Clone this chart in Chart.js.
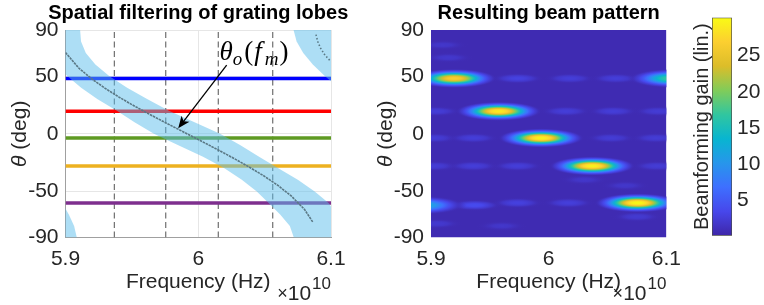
<!DOCTYPE html>
<html lang="en">
<head>
  <meta charset="UTF-8" />
  <title>Grating lobes and beam pattern</title>
  <script src="https://cdn.jsdelivr.net/npm/chart.js"></script>
  <style>
    body {
      margin: 0;
      background: #fff;
      width: 764px;
      height: 305px;
      position: relative;
      overflow: hidden;
    }
    canvas { position: absolute; top: 0; }
    #left { left: 0; }
    #right { left: 360px; }
    #cbar { left: 690px; }
  </style>
</head>
<body>
  <canvas id="left" width="360" height="305"></canvas>
  <canvas id="right" width="330" height="305"></canvas>
  <canvas id="cbar" width="74" height="305"></canvas>

  <script>
    // ---- data: frequency in units of 1e10 Hz, angle in degrees ----
    const xTicks = [5.9, 6.0, 6.1];
    const xTickLabels = ['5.9', '6', '6.1'];
    const yTicks = [-90, -50, 0, 50, 90];
    const yTickLabels = ['-90', '-50', '0', '50', '90'];
    const cbarTicks = [5, 10, 15, 20, 25];
    const cbarRange = [0.1, 30.26];

    // steering angle of each sub-band
    const beamAngles = [48, 19.5, -3.7, -28, -60];
    // sub-band boundaries (dashed)
    const subbandEdges = [5.9368, 5.9755, 6.0151, 6.0561];

    // theta_o(f_m)
    const curveFreq = [5.900, 5.910, 5.920, 5.930, 5.940, 5.950, 5.960, 5.970, 5.980, 5.990,
                       6.000, 6.010, 6.020, 6.030, 6.040, 6.050, 6.060, 6.070, 6.080, 6.0865];
    const curveDeg = [70.4, 57.0, 47.4, 39.3, 32.0, 25.3, 18.9, 12.8, 6.8, 0.9,
                      -5.0, -11.0, -17.1, -23.4, -30.0, -37.0, -44.8, -53.9, -65.6, -77];
    const curve2Freq = [6.0887, 6.090, 6.092, 6.095, 6.098, 6.100];
    const curve2Deg = [86, 80, 74.5, 69, 65, 62.5];

    // spatial filter passband: low / high frequency edge at each angle
    const passDeg = [90, 80, 70, 60, 50, 40, 30, 20, 10, 0, -10, -20, -30, -40, -50, -60, -70, -80, -90];
    const passLo = [5.8778, 5.8801, 5.8851, 5.8923, 5.9013, 5.9118, 5.9242, 5.9387, 5.9520, 5.9666,
                    5.9850, 6.0036, 6.0197, 6.0328, 6.0441, 6.0530, 6.0617, 6.0690, 6.0720];
    const passHi = [5.9110, 5.9117, 5.9153, 5.9225, 5.9329, 5.9464, 5.9618, 5.9779, 5.9972, 6.0164,
                    6.0318, 6.0458, 6.0603, 6.0750, 6.0877, 6.0982, 6.1039, 6.1052, 6.1052];
    // wrapped parts of the passband (top right, bottom left)
    const wrapTopDeg = [90, 80, 70, 60, 50, 40, 30];
    const wrapTopLo = [6.0718, 6.0741, 6.0791, 6.0863, 6.0953, 6.1058, 6.1182];
    const wrapBotDeg = [-50, -60, -70, -80, -90];
    const wrapBotHi = [5.8880, 5.8975, 5.9025, 5.9065, 5.9085];

    // beam pattern: main beams
    const beamFreq = [5.9195, 5.9575, 5.9935, 6.0370, 6.0755, 6.104, 5.893];
    const beamDeg = [48, 19.5, -3.7, -28, -60, 48, -62];
    const beamGain = [26.5, 29, 29.5, 29.5, 30, 17, 12];
    // beam pattern: side lobes
    const sideFreq = [5.9736, 6.018, 6.057, 5.904, 6.0145, 6.0547, 6.093, 5.903, 5.936, 6.053,
                      6.091, 5.903, 5.936, 5.9735, 6.092, 5.937, 5.9735, 6.0167, 5.905, 5.96,
                      5.915, 5.91, 6.075, 6.065, 6.03];
    const sideDeg = [48, 48, 48, 19.5, 19.5, 19.5, 19.5, -3.7, -3.7, -3.7,
                     -3.7, -28, -28, -28, -28, -62, -60, -60, -78, -80,
                     66, 77, -72, -45, -40];
    const sideGain = [2.9, 2.5, 2.5, 2.4, 2.5, 2.5, 2.3, 2.3, 2.5, 2.3,
                      2.3, 2.3, 2.5, 2.5, 2.3, 3.8, 2.8, 2.6, 2.0, 1.8,
                      1.9, 1.8, 2.1, 1.8, 1.8];

    // annotation (data coords)
    const arrowTail = [6.0214, 59.6];
    const arrowHead = [5.9849, 4.7];
    const labelAt = [6.0160, 64];

    // ---- styles ----
    const family = '"Liberation Sans", Arial, Helvetica, sans-serif';
    const serif = '"Liberation Serif", "DejaVu Serif", serif';
    const ink = '#262626';
    const beamColors = ['#0000ff', '#ff0000', '#5e9a22', '#edb120', '#7e2f8e'];
    const PARULA = [[62,38,168],[71,71,235],[62,111,255],[39,150,235],[8,181,208],
                    [49,198,159],[129,204,89],[220,189,41],[252,207,48],[249,251,21]];
    const BG = 0.6;

    Chart.defaults.font.family = family;
    Chart.defaults.color = ink;

    function parula(v) {
      let t = (v - cbarRange[0]) / (cbarRange[1] - cbarRange[0]);
      t = Math.max(0, Math.min(1, t)) * (PARULA.length - 1);
      const i = Math.min(Math.floor(t), PARULA.length - 2), u = t - i;
      return [0, 1, 2].map(k => Math.round(PARULA[i][k] + (PARULA[i + 1][k] - PARULA[i][k]) * u));
    }

    function pts(xs, ys) { return xs.map((x, i) => ({ x: x, y: ys[i] })); }

    function xAxis(extra) {
      return Object.assign({
        type: 'linear', min: 5.9, max: 6.1,
        afterBuildTicks: s => { s.ticks = xTicks.map(v => ({ value: v })); },
        afterFit: s => { s.height = 67.5; },
        grid: { color: '#e6e6e6', drawTicks: false },
        border: { color: '#a0a0a0' },
        ticks: { padding: 9, maxRotation: 0, font: { size: 21 }, callback: (v, i) => xTickLabels[i] },
        title: { display: true, text: 'Frequency (Hz)', font: { size: 21 }, padding: { top: 0, bottom: 10 } }
      }, extra || {});
    }

    function yAxis(width, extra) {
      return Object.assign({
        type: 'linear', min: -90, max: 90,
        afterBuildTicks: s => { s.ticks = yTicks.map(v => ({ value: v })); },
        afterFit: s => { s.width = width; },
        grid: { color: '#e6e6e6', drawTicks: false },
        border: { color: '#a0a0a0' },
        ticks: { padding: 7, font: { size: 21 }, callback: (v, i) => yTickLabels[i] }
      }, extra || {});
    }

    // titles, rotated theta label and x10^10 multiplier
    const decor = {
      id: 'decor',
      afterDraw(chart, args, o) {
        const { ctx, chartArea: a } = chart;
        ctx.save();
        ctx.fillStyle = '#000';
        ctx.font = 'bold 20px ' + family;
        ctx.textAlign = 'center';
        ctx.textBaseline = 'middle';
        ctx.fillText(o.title, (a.left + a.right) / 2, 13);

        ctx.fillStyle = ink;
        ctx.save();
        ctx.translate(o.yTitleX, (a.top + a.bottom) / 2);
        ctx.rotate(-Math.PI / 2);
        ctx.textAlign = 'left';
        ctx.font = 'italic 21px ' + family;
        const w1 = ctx.measureText('\u03b8').width;
        ctx.font = '21px ' + family;
        const w2 = ctx.measureText(' (deg)').width;
        ctx.font = 'italic 21px ' + family;
        ctx.fillText('\u03b8', -(w1 + w2) / 2, 0);
        ctx.font = '21px ' + family;
        ctx.fillText(' (deg)', -(w1 + w2) / 2 + w1, 0);
        ctx.restore();

        ctx.textAlign = 'left';
        ctx.textBaseline = 'alphabetic';
        ctx.font = '17px ' + family;
        const ws = ctx.measureText('10').width;
        const xs = a.right - ws;
        ctx.fillText('10', xs, 289);
        ctx.font = '21px ' + family;
        const w10 = ctx.measureText('10').width;
        ctx.fillText('10', xs - w10 - 1, 300);
        ctx.font = '18px ' + family;
        const wx = ctx.measureText('\u00d7').width;
        ctx.fillText('\u00d7', xs - w10 - wx - 1, 299);
        ctx.restore();
      }
    };

    // arrow + theta_o(f_m) label
    const annotate = {
      id: 'annotate',
      afterDatasetsDraw(chart) {
        const { ctx, scales: { x, y } } = chart;
        const tx = x.getPixelForValue(arrowTail[0]), ty = y.getPixelForValue(arrowTail[1]);
        const hx = x.getPixelForValue(arrowHead[0]), hy = y.getPixelForValue(arrowHead[1]);
        const ang = Math.atan2(hy - ty, hx - tx);
        ctx.save();
        ctx.strokeStyle = '#000';
        ctx.fillStyle = '#000';
        ctx.lineWidth = 1.3;
        ctx.beginPath();
        ctx.moveTo(tx, ty);
        ctx.lineTo(hx - 6 * Math.cos(ang), hy - 6 * Math.sin(ang));
        ctx.stroke();
        ctx.translate(hx, hy);
        ctx.rotate(ang);
        ctx.beginPath();
        ctx.moveTo(0, 0);
        ctx.lineTo(-12, -5);
        ctx.lineTo(-9, 0);
        ctx.lineTo(-12, 5);
        ctx.closePath();
        ctx.fill();
        ctx.restore();

        const parts = [
          { t: '\u03b8', it: true, size: 27, dy: 0, gap: 0 },
          { t: 'o', it: true, size: 19, dy: 5, gap: 2 },
          { t: '(', it: false, size: 27, dy: 0, gap: 1 },
          { t: 'f', it: true, size: 27, dy: 0, gap: 3 },
          { t: 'm', it: true, size: 19, dy: 5, gap: 1 },
          { t: ')', it: false, size: 27, dy: 0, gap: 0 }
        ];
        let px = x.getPixelForValue(labelAt[0]);
        const py = y.getPixelForValue(labelAt[1]);
        ctx.save();
        ctx.fillStyle = '#000';
        ctx.textBaseline = 'alphabetic';
        ctx.textAlign = 'left';
        for (const p of parts) {
          ctx.font = (p.it ? 'italic ' : '') + p.size + 'px ' + serif;
          ctx.fillText(p.t, px, py + p.dy);
          px += ctx.measureText(p.t).width + p.gap;
        }
        ctx.restore();
      }
    };

    // heat map painted from the beam / side lobe datasets
    const heat = {
      id: 'heat',
      beforeDatasetsDraw(chart) {
        const { ctx, chartArea: a, scales: { x, y } } = chart;
        ctx.save();
        ctx.beginPath();
        ctx.rect(a.left, a.top, a.right - a.left, a.bottom - a.top);
        ctx.clip();
        const bg = parula(BG);
        ctx.fillStyle = 'rgb(' + bg.join(',') + ')';
        ctx.fillRect(a.left, a.top, a.right - a.left, a.bottom - a.top);
        const size = { side: [0.026, 5.5], beam: [0.037, 8.5] };
        const blobs = [];
        chart.data.datasets.forEach(ds => {
          ds.data.forEach(d => blobs.push({ d: d, s: size[ds.label] }));
        });
        blobs.sort((p, q) => p.d.g - q.d.g);
        const e4 = Math.exp(-4);
        for (const b of blobs) {
          const cx = x.getPixelForValue(b.d.x), cy = y.getPixelForValue(b.d.y);
          const rx = x.getPixelForValue(b.d.x + b.s[0]) - cx;
          const ry = cy - y.getPixelForValue(b.d.y + b.s[1]);
          ctx.save();
          ctx.translate(cx, cy);
          ctx.scale(rx, ry);
          const g = ctx.createRadialGradient(0, 0, 0, 0, 0, 1);
          for (let i = 0; i <= 24; i++) {
            const s = i / 24;
            const w = (Math.exp(-4 * Math.pow(s, 2.5)) - e4) / (1 - e4);
            const v = BG + (b.d.g - BG) * w;
            const c = parula(v);
            const al = Math.min(1, (v - BG) / 1.0);
            g.addColorStop(s, 'rgba(' + c.join(',') + ',' + al.toFixed(3) + ')');
          }
          ctx.fillStyle = g;
          ctx.beginPath();
          ctx.arc(0, 0, 1, 0, Math.PI * 2);
          ctx.fill();
          ctx.restore();
        }
        ctx.restore();
      }
    };

    // ---- left: spatial filtering ----
    const mainBand = pts(passLo, passDeg).concat(pts(passHi, passDeg).reverse());
    const topBand = pts(wrapTopLo, wrapTopDeg).concat([{ x: 6.2, y: 30 }, { x: 6.2, y: 90 }]);
    const botBand = pts(wrapBotHi, wrapBotDeg).concat([{ x: 5.8, y: -90 }, { x: 5.8, y: -50 }]);
    const bandStyle = { borderWidth: 0, backgroundColor: 'rgba(92,190,235,0.5)', fill: 'shape', order: 1 };
    const curveStyle = { borderColor: '#5a7885', borderWidth: 1.6, borderDash: [2.5, 0.8], fill: false, order: 0 };

    const leftSets = [
      Object.assign({ data: pts(curveFreq, curveDeg) }, curveStyle),
      Object.assign({ data: pts(curve2Freq, curve2Deg) }, curveStyle, { borderDash: [1.5, 2] }),
      Object.assign({ data: mainBand }, bandStyle),
      Object.assign({ data: topBand }, bandStyle),
      Object.assign({ data: botBand }, bandStyle)
    ];
    beamAngles.forEach((d, i) => leftSets.push({
      data: [{ x: 5.9, y: d }, { x: 6.1, y: d }],
      borderColor: beamColors[i], borderWidth: 3.5, fill: false, order: 2
    }));
    subbandEdges.forEach(f => leftSets.push({
      data: [{ x: f, y: -90 }, { x: f, y: 90 }],
      borderColor: '#6e6e6e', borderWidth: 1.2, borderDash: [6, 3.5], fill: false, order: 3
    }));

    new Chart(document.getElementById('left'), {
      type: 'line',
      data: { datasets: leftSets },
      options: {
        responsive: false,
        animation: false,
        devicePixelRatio: 1,
        layout: { padding: { top: 30, right: 29, left: 0, bottom: 0 } },
        elements: { point: { radius: 0 }, line: { tension: 0 } },
        plugins: {
          legend: { display: false },
          tooltip: { enabled: false },
          decor: { title: 'Spatial filtering of grating lobes', yTitleX: 20 }
        },
        scales: { x: xAxis(), y: yAxis(65.5) }
      },
      plugins: [annotate, decor]
    });

    // ---- right: resulting beam pattern ----
    new Chart(document.getElementById('right'), {
      type: 'scatter',
      data: {
        datasets: [
          { label: 'side', pointRadius: 0, data: sideFreq.map((f, i) => ({ x: f, y: sideDeg[i], g: sideGain[i] })) },
          { label: 'beam', pointRadius: 0, data: beamFreq.map((f, i) => ({ x: f, y: beamDeg[i], g: beamGain[i] })) }
        ]
      },
      options: {
        responsive: false,
        animation: false,
        devicePixelRatio: 1,
        layout: { padding: { top: 30, right: 12, left: 0, bottom: 0 } },
        plugins: {
          legend: { display: false },
          tooltip: { enabled: false },
          decor: { title: 'Resulting beam pattern', yTitleX: 26 }
        },
        scales: {
          x: xAxis({ grid: { display: false, drawTicks: false }, border: { display: false } }),
          y: yAxis(71, { grid: { display: false, drawTicks: false }, border: { display: false } })
        }
      },
      plugins: [heat, decor]
    });

    // ---- colour bar ----
    new Chart(document.getElementById('cbar'), {
      type: 'bar',
      data: {
        labels: [''],
        datasets: [{
          data: [cbarRange],
          backgroundColor: c => {
            const ch = c.chart;
            if (!ch.chartArea) return null;
            const y = ch.scales.y;
            const g = ch.ctx.createLinearGradient(0, y.getPixelForValue(cbarRange[0]), 0, y.getPixelForValue(cbarRange[1]));
            PARULA.forEach((p, i) => g.addColorStop(i / (PARULA.length - 1), 'rgb(' + p.join(',') + ')'));
            return g;
          },
          borderColor: '#4a4a4a',
          borderWidth: 1,
          borderSkipped: false,
          barPercentage: 1,
          categoryPercentage: 1
        }]
      },
      options: {
        responsive: false,
        animation: false,
        devicePixelRatio: 1,
        layout: { padding: { top: 16, bottom: 69.3, left: 0, right: 0 } },
        plugins: { legend: { display: false }, tooltip: { enabled: false } },
        scales: {
          x: { display: false },
          y: {
            position: 'right', min: cbarRange[0], max: cbarRange[1],
            afterBuildTicks: s => { s.ticks = cbarTicks.map(v => ({ value: v })); },
            afterFit: s => { s.width = 32; },
            grid: { display: false, drawTicks: false },
            border: { display: false },
            ticks: { padding: 5, font: { size: 21 } }
          },
          yl: {
            position: 'left', min: cbarRange[0], max: cbarRange[1],
            afterFit: s => { s.width = 22; },
            grid: { display: false, drawTicks: false },
            border: { display: false },
            ticks: { display: false },
            title: { display: true, text: 'Beamforming gain (lin.)', font: { size: 20 }, padding: 0 }
          }
        }
      }
    });
  </script>
</body>
</html>
